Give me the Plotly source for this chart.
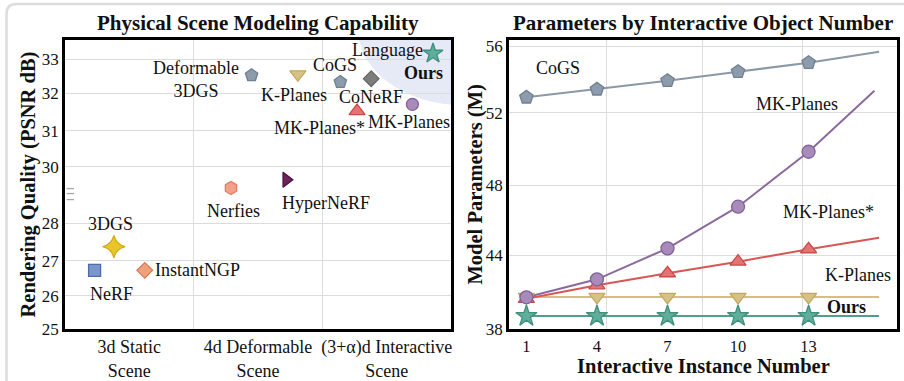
import numpy as np
import plotly.graph_objects as go

# ---------------- data ----------------
# Left panel: PSNR by method
methods = ["NeRF", "3DGS", "InstantNGP", "Nerfies", "HyperNeRF", "Deformable 3DGS",
           "K-Planes", "CoGS", "CoNeRF", "MK-Planes*", "MK-Planes", "Ours"]
category_idx = [0, 0, 0, 1, 1, 1, 1, 2, 2, 2, 2, 2]
category_offset = [-0.27, -0.12, 0.12, -0.21, 0.22, -0.05, 0.31, -0.36, -0.12, -0.23, 0.20, 0.36]
psnr = [26.73, 27.38, 26.73, 29.25, 29.54, 32.53, 32.56, 32.33, 32.43, 31.52, 31.70, 33.18]
categories = ["3d Static<br>Scene", "4d Deformable<br>Scene", "(3+α)d Interactive<br>Scene"]
psnr_ticks = [25, 26, 27, 28, 30, 31, 32, 33]

# Right panel: parameters vs interactive instance number
instances = [1, 4, 7, 10, 13]
cogs_params = [52.92, 53.40, 53.92, 54.46, 55.00]
mkplanes_params = [40.57, 42.03, 44.38, 46.76, 49.84]
mkplanes_star_params = [40.45, 41.54, 42.52, 43.46, 44.33]
kplanes_params = [40.60, 40.60, 40.60, 40.60, 40.60]
ours_params = [39.05, 39.05, 39.05, 39.05, 39.05]
# trend-line end points
trend_end_x = {"CoGS": 16, "MK-Planes": 15.8, "MK-Planes*": 16, "K-Planes": 16, "Ours": 16}
trend_end_y = {"CoGS": 55.66, "MK-Planes": 53.32, "MK-Planes*": 44.99, "K-Planes": 40.60, "Ours": 39.05}
param_ticks = [38, 44, 48, 52, 56]

# ---------------- broken-axis scales ----------------
L_KEYS = [24, 25, 26, 27, 28, 30, 31, 32, 33, 34]
L_POS = [-35, 0, 33, 68, 105.5, 162, 198, 235.5, 269, 302.5]
R_KEYS = [37, 38, 44, 48, 52, 56, 57]
R_POS = [-12.3, 0, 74, 144, 216.3, 283, 299.7]


def ly(v):
    return np.interp(v, L_KEYS, L_POS)


def ry(v):
    return np.interp(v, R_KEYS, R_POS)


FONT = "Liberation Serif"
W, H = 904, 381
ML, MR, MT, MB = 65, 7, 40, 52
PW, PH = W - ML - MR, H - MT - MB


def px(x):
    return (x - ML) / PW


def py(y):
    return (H - MB - y) / PH


fig = go.Figure()

styles = {
    "NeRF": dict(symbol="square", size=12, color="#7b96cc", line="#4d6cab"),
    "3DGS": dict(symbol="star-diamond", size=16, color="#e8c62a", line="#d2aa12"),
    "InstantNGP": dict(symbol="diamond", size=12, color="#eea27c", line="#d97a52"),
    "Nerfies": dict(symbol="hexagon", size=13, color="#f0a189", line="#e07f62"),
    "HyperNeRF": dict(symbol="triangle-right", size=13, color="#6d2459", line="#4c1040"),
    "Deformable 3DGS": dict(symbol="pentagon", size=13, color="#8d9cad", line="#6f8092"),
    "K-Planes": dict(symbol="triangle-down", size=14, color="#d7c285", line="#c4a862"),
    "CoGS": dict(symbol="pentagon", size=13, color="#8d9cad", line="#6f8092"),
    "CoNeRF": dict(symbol="diamond", size=12, color="#7d7d7d", line="#666666"),
    "MK-Planes*": dict(symbol="triangle-up", size=14, color="#e57373", line="#c94c4c"),
    "MK-Planes": dict(symbol="circle", size=12, color="#a98bb9", line="#80619a"),
    "Ours": dict(symbol="star", size=15, color="#5fae9c", line="#3f8f7d"),
}

for m, ci, off, v in zip(methods, category_idx, category_offset, psnr):
    s = styles[m]
    fig.add_trace(go.Scatter(
        x=[ci + off], y=[ly(v)], mode="markers", name=m, showlegend=False,
        marker=dict(symbol=s["symbol"], size=s["size"], color=s["color"],
                    line=dict(color=s["line"], width=1.3)),
        xaxis="x", yaxis="y"))

series = [
    ("CoGS", cogs_params, "#8d9cad", "#6f8092", "#8a98a8", "pentagon", 14),
    ("K-Planes", kplanes_params, "#d7c285", "#c4a862", "#d4bf7c", "triangle-down", 14),
    ("MK-Planes*", mkplanes_star_params, "#e57373", "#c94c4c", "#d95656", "triangle-up", 14),
    ("MK-Planes", mkplanes_params, "#a98bb9", "#80619a", "#8a6a9d", "circle", 13),
    ("Ours", ours_params, "#5fae9c", "#3f8f7d", "#4e9f90", "star", 16),
]
for name, vals, fc, lc, linec, sym, sz in series:
    xs = instances + [trend_end_x[name]]
    ys = vals + [trend_end_y[name]]
    fig.add_trace(go.Scatter(x=xs, y=ry(np.array(ys)), mode="lines", showlegend=False,
                             line=dict(color=linec, width=2), xaxis="x2", yaxis="y2"))
for name, vals, fc, lc, linec, sym, sz in series:
    fig.add_trace(go.Scatter(x=instances, y=ry(np.array(vals)), mode="markers", showlegend=False,
                             marker=dict(symbol=sym, size=sz, color=fc, line=dict(color=lc, width=1.3)),
                             xaxis="x2", yaxis="y2"))

axis_common = dict(showline=True, mirror=True, linecolor="black", linewidth=2.5,
                   gridcolor="#dcdcdc", gridwidth=1, zeroline=False, ticks="", automargin=False)
tickfont = dict(family=FONT, size=17, color="#111")

fig.update_layout(
    width=W, height=H, margin=dict(l=ML, r=MR, t=MT, b=MB),
    paper_bgcolor="white", plot_bgcolor="white",
    xaxis=dict(domain=[0, 386 / PW], range=[-0.5, 2.5], tickmode="array",
               tickvals=[0, 1, 2], ticktext=categories, showgrid=False,
               minor=dict(tickmode="array", tickvals=[0.5, 1.5], showgrid=True,
                          gridcolor="#dcdcdc", ticks=""),
               tickfont=dict(family=FONT, size=18, color="#111"), **axis_common),
    yaxis=dict(domain=[0, 1], range=[0, 288.5], tickmode="array",
               tickvals=list(ly(np.array(psnr_ticks))), ticktext=[str(t) for t in psnr_ticks],
               showgrid=True, tickfont=tickfont, **axis_common),
    xaxis2=dict(domain=[444 / PW, 1], range=[0.26, 16.76], tickmode="array",
                tickvals=instances, ticktext=[str(i) for i in instances], showgrid=False,
                minor=dict(tickmode="array", tickvals=[4.41, 8.47, 12.73], showgrid=True,
                           gridcolor="#dcdcdc", ticks=""),
                anchor="y2", tickfont=dict(family=FONT, size=16.5, color="#111"), **axis_common),
    yaxis2=dict(domain=[0, 1], range=[0, 289], tickmode="array",
                tickvals=list(ry(np.array(param_ticks))), ticktext=[str(t) for t in param_ticks],
                showgrid=True, anchor="x2", tickfont=tickfont, **axis_common),
)

ann = []


def A(text, x, y, xref="x", yref="y", size=18, bold=False, **kw):
    t = f"<b>{text}</b>" if bold else text
    d = dict(text=t, x=x, y=y, xref=xref, yref=yref, showarrow=False,
             font=dict(family=FONT, size=size, color="#111"), xanchor="center", yanchor="middle")
    d.update(kw)
    ann.append(d)


# left labels (x data, y display)
A("Language", 2.01, 278.5)
A("Ours", 2.29, 255.8, bold=True)
A("Deformable<br>3DGS", 0.52, 249)
A("CoGS", 1.60, 263.5)
A("K-Planes", 1.28, 233.5)
A("CoNeRF", 1.88, 231.2)
A("MK-Planes*", 1.48, 200.2)
A("MK-Planes", 2.17, 206.8)
A("Nerfies", 0.81, 117.8)
A("HyperNeRF", 1.53, 125.8)
A("3DGS", -0.15, 105.2)
A("InstantNGP", 0.53, 58.5)
A("NeRF", -0.14, 35.2)

# right labels
A("CoGS", 2.33, 261, xref="x2", yref="y2")
A("MK-Planes", 12.5, 225, xref="x2", yref="y2")
A("MK-Planes*", 13.84, 117, xref="x2", yref="y2")
A("K-Planes", 15.12, 54, xref="x2", yref="y2")
A("Ours", 14.63, 21.7, xref="x2", yref="y2", bold=True)

# titles
A("Physical Scene Modeling Capability", 0.5, 1, xref="x domain", yref="y domain",
  size=21, bold=True, yshift=17)
A("Parameters by Interactive Object Number", 0.5, 1, xref="x2 domain", yref="y2 domain",
  size=21, bold=True, yshift=17)
A("Rendering Quality (PSNR dB)", 0, 0.5, xref="x domain", yref="y domain",
  size=20.5, bold=True, textangle=-90, xshift=-37)
A("Model Parameters (M)", 0, 0.5, xref="x2 domain", yref="y2 domain",
  size=20.5, bold=True, textangle=-90, xshift=-34)
A("Interactive Instance Number", 0.5, 0, xref="x2 domain", yref="y2 domain",
  size=20.5, bold=True, yshift=-37)

fig.update_layout(annotations=ann)

shapes = []
# highlight region for "Ours"
shapes.append(dict(type="circle", xref="x", yref="y", layer="below",
                   x0=2.6 - 0.82, x1=2.6 + 0.82, y0=298.5 - 75, y1=298.5 + 75,
                   fillcolor="#e5eaf6", line=dict(width=0)))
# axis-break marks
for yb in [140.2, 135.2, 129.2]:
    shapes.append(dict(type="line", xref="x", yref="y", x0=-0.487, x1=-0.43, y0=yb, y1=yb,
                       line=dict(color="#a8a8a8", width=1.3)))
# outer rounded frame (left + top)
frame = (f"M {px(6.5)},{py(381)} L {px(6.5)},{py(14)} Q {px(6.5)},{py(4)} {px(16.5)},{py(4)} "
         f"L {px(904)},{py(4)}")
shapes.append(dict(type="path", xref="paper", yref="paper", path=frame,
                   line=dict(color="#dddddd", width=2.5)))
fig.update_layout(shapes=shapes)

fig.write_html("out.html")
